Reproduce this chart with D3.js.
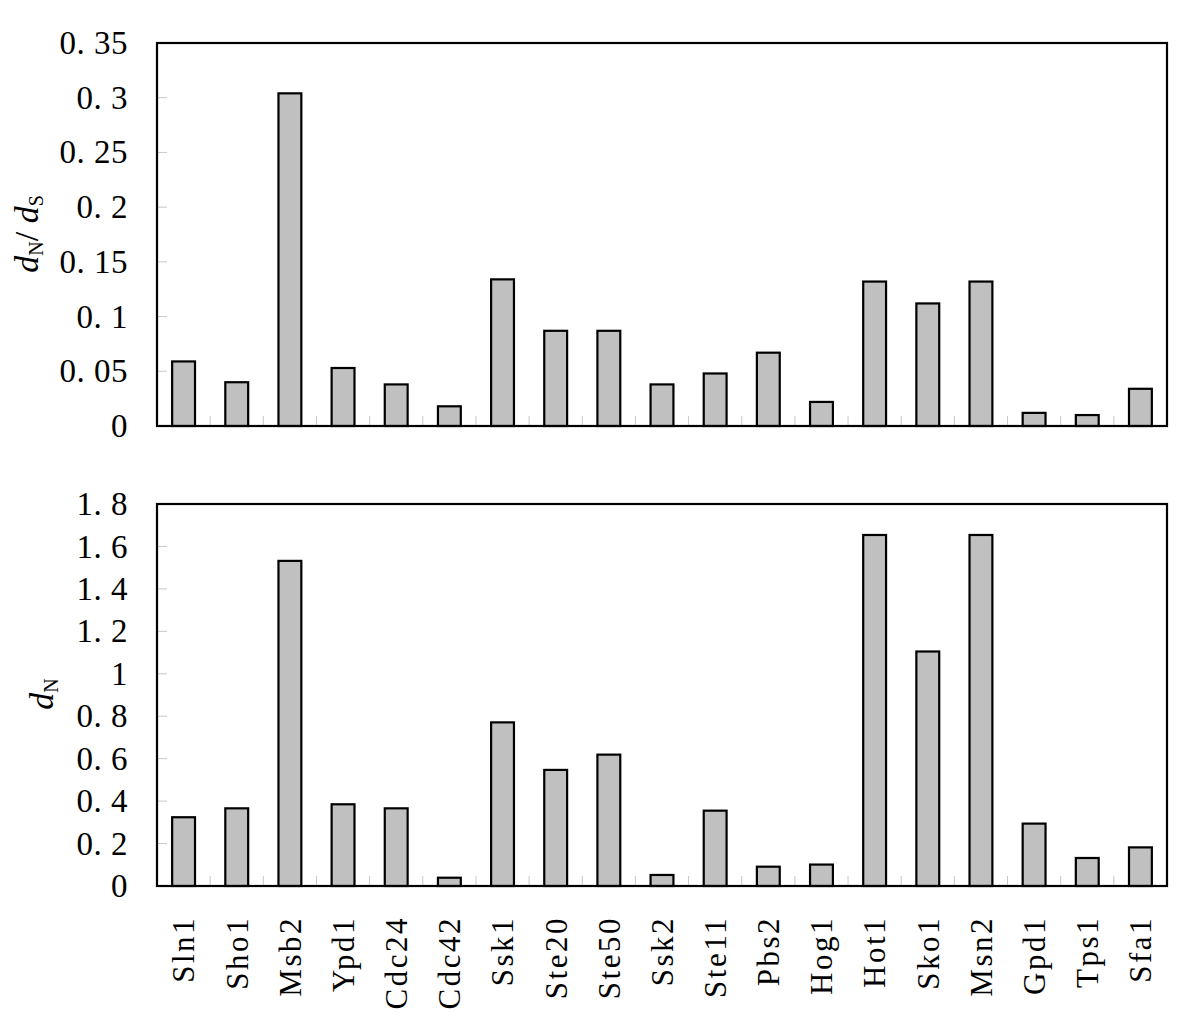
<!DOCTYPE html>
<html>
<head>
<meta charset="utf-8">
<script src="https://d3js.org/d3.v7.min.js"></script>
<style>
  body { margin: 0; background: #fff; }
  text { font-family: "Liberation Serif", "Times New Roman", serif; fill: #000; }
</style>
</head>
<body>
<svg width="1200" height="1023"></svg>
<script>
// gene names along the x axis
var genes = ["Sln1","Sho1","Msb2","Ypd1","Cdc24","Cdc42","Ssk1","Ste20","Ste50","Ssk2",
             "Ste11","Pbs2","Hog1","Hot1","Sko1","Msn2","Gpd1","Tps1","Sfa1"];
// dN/dS ratio (top panel)
var dnds = [0.059,0.040,0.304,0.053,0.038,0.018,0.134,0.087,0.087,0.038,
            0.048,0.067,0.022,0.132,0.112,0.132,0.012,0.010,0.034];
// dN (bottom panel)
var dn = [0.324,0.366,1.532,0.385,0.366,0.039,0.771,0.547,0.619,0.052,
          0.355,0.091,0.101,1.654,1.105,1.654,0.294,0.132,0.182];
var topTicks = [0,0.05,0.1,0.15,0.2,0.25,0.3,0.35];
var bottomTicks = [0,0.2,0.4,0.6,0.8,1,1.2,1.4,1.6,1.8];

var svg = d3.select("svg");
var left = 157, right = 1167;

var x = d3.scaleBand()
  .domain(genes)
  .range([left, right])
  .paddingInner(0.57)
  .paddingOuter(0.285);

function fmt(d) { return String(d).replace(".", ". "); }

function panel(values, ticks, top, bottom, max) {
  var y = d3.scaleLinear().domain([0, max]).range([bottom, top]);
  var g = svg.append("g");

  // light gray y ticks inside the frame
  g.selectAll(".yt").data(ticks.slice(1, -1)).enter().append("line")
    .attr("x1", left).attr("x2", left + 10)
    .attr("y1", function (d) { return y(d); })
    .attr("y2", function (d) { return y(d); })
    .attr("stroke", "#c8c8c8").attr("stroke-width", 1);

  // category separators along the bottom
  var step = x.step();
  g.selectAll(".xt").data(d3.range(1, genes.length)).enter().append("line")
    .attr("x1", function (i) { return left + i * step; })
    .attr("x2", function (i) { return left + i * step; })
    .attr("y1", bottom).attr("y2", bottom - 10)
    .attr("stroke", "#c8c8c8").attr("stroke-width", 1);

  g.selectAll("rect.bar").data(values).enter().append("rect")
    .attr("class", "bar")
    .attr("x", function (d, i) { return x(genes[i]); })
    .attr("y", function (d) { return y(d); })
    .attr("width", x.bandwidth())
    .attr("height", function (d) { return y(0) - y(d); })
    .attr("fill", "#c0c0c0")
    .attr("stroke", "#000")
    .attr("stroke-width", 2.2);

  g.append("rect")
    .attr("x", left).attr("y", top)
    .attr("width", right - left).attr("height", bottom - top)
    .attr("fill", "none").attr("stroke", "#000").attr("stroke-width", 2.2);

  var axis = d3.axisLeft(y).tickValues(ticks).tickSize(0).tickPadding(29).tickFormat(fmt);
  var ag = g.append("g").attr("transform", "translate(" + left + ",0)").call(axis);
  ag.select(".domain").remove();
  ag.selectAll("text")
    .style("font-size", "33px")
    .style("font-family", "Liberation Serif")
    .style("letter-spacing", "0.5px");
  return y;
}

panel(dnds, topTicks, 43, 426, 0.35);
panel(dn, bottomTicks, 504, 886, 1.8);

// rotated gene labels
svg.append("g").selectAll("text").data(genes).enter().append("text")
  .attr("transform", function (d) {
    return "translate(" + (x(d) + x.bandwidth() / 2) + ",916) rotate(-90)";
  })
  .attr("text-anchor", "end")
  .attr("dy", "0.35em")
  .style("font-size", "31px")
  .style("letter-spacing", "2.5px")
  .text(function (d) { return d; });

// y titles
var t1 = svg.append("text")
  .attr("transform", "translate(38,234) rotate(-90)")
  .attr("text-anchor", "middle")
  .style("font-size", "34px");
t1.append("tspan").style("font-style", "italic").text("d");
t1.append("tspan").attr("dy", 5).style("font-size", "20px").text("N");
t1.append("tspan").attr("dy", -5).text("/ ");
t1.append("tspan").style("font-style", "italic").text("d");
t1.append("tspan").attr("dy", 5).style("font-size", "20px").text("S");

var t2 = svg.append("text")
  .attr("transform", "translate(53,694) rotate(-90)")
  .attr("text-anchor", "middle")
  .style("font-size", "34px");
t2.append("tspan").style("font-style", "italic").text("d");
t2.append("tspan").attr("dy", 5).style("font-size", "20px").text("N");
</script>
</body>
</html>
